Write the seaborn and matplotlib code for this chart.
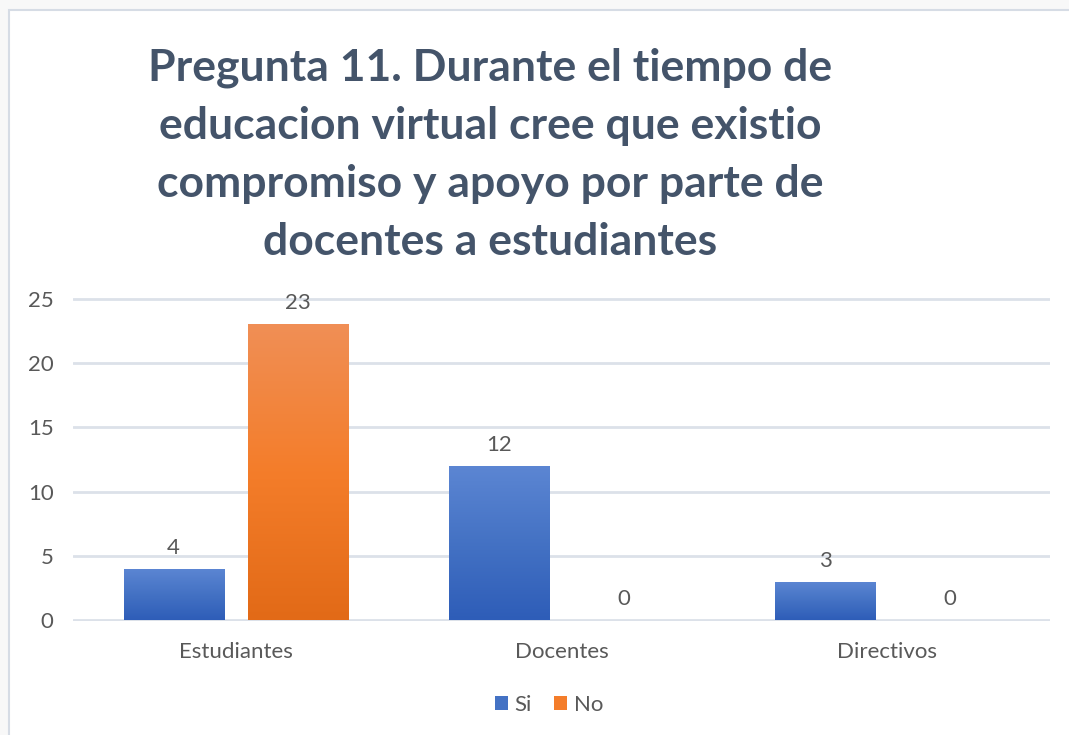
"""Recreate the Pregunta 11 grouped bar chart."""

import matplotlib

matplotlib.use("Agg")
import matplotlib.pyplot as plt
import numpy as np
import pandas as pd
import seaborn as sns
from matplotlib.colors import LinearSegmentedColormap
from matplotlib.patches import Rectangle

CATEGORIES = ["Estudiantes", "Docentes", "Directivos"]
SERIES = ["Si", "No"]
SI_VALUES = [4, 12, 3]
NO_VALUES = [23, 0, 0]
Y_TICKS = [0, 5, 10, 15, 20, 25]
TITLE = (
    "Pregunta 11. Durante el tiempo de\n"
    "educacion virtual cree que existio\n"
    "compromiso y apoyo por parte de\n"
    "docentes a estudiantes"
)

BLUE_STOPS = ["#5C86D3", "#4472C4", "#2E5DB8"]
ORANGE_STOPS = ["#F08F56", "#F47D2A", "#E26A17"]
TEXT_GREY = "#595959"
TITLE_COLOR = "#44546A"
GRID_COLOR = "#DCE1E9"

data = pd.DataFrame(
    {
        "Grupo": CATEGORIES * 2,
        "Respuesta": [SERIES[0]] * len(CATEGORIES) + [SERIES[1]] * len(CATEGORIES),
        "Cantidad": SI_VALUES + NO_VALUES,
    }
)

sns.set_theme(style="white")
plt.rcParams["font.family"] = ["Lato", "DejaVu Sans"]

fig = plt.figure(figsize=(10.69, 7.35), dpi=100, facecolor="#F8F8F8")
fig.patches.append(
    Rectangle(
        (9 / 1069, -0.1), 1.2, 1.1 - 10 / 735,
        transform=fig.transFigure, facecolor="white",
        edgecolor="#D6DCE5", linewidth=1.5, zorder=-1,
    )
)
ax = fig.add_axes([73 / 1069, 114 / 735, 977 / 1069, 323 / 735])
ax.set_facecolor("none")

sns.barplot(
    data=data, x="Grupo", y="Cantidad", hue="Respuesta",
    palette=[BLUE_STOPS[1], ORANGE_STOPS[1]],
    width=0.764, gap=0.196, ax=ax, saturation=1, linewidth=0,
)

# vertical gradient fill like the office chart style (dark at bottom)
gradient = np.linspace(1, 0, 256).reshape(-1, 1)
for container, stops in zip(ax.containers, [BLUE_STOPS, ORANGE_STOPS]):
    cmap = LinearSegmentedColormap.from_list("grad", stops)
    for bar in container:
        x0, y0 = bar.get_x(), bar.get_y()
        w, h = bar.get_width(), bar.get_height()
        if h <= 0:
            continue
        img = ax.imshow(
            gradient, cmap=cmap, aspect="auto", origin="lower",
            extent=(x0, x0 + w, y0, y0 + h), zorder=bar.get_zorder() + 0.1,
        )
        img.set_clip_path(bar)

ax.set_xlim(-0.5, 2.5)
ax.set_ylim(-0.04, 25.04)
for container in ax.containers:
    ax.bar_label(container, padding=8, fontsize=16, color=TEXT_GREY)

ax.set_yticks(Y_TICKS)
ax.yaxis.grid(True, color=GRID_COLOR, linewidth=2)
ax.set_axisbelow(True)
sns.despine(ax=ax, left=True, bottom=True)
ax.tick_params(axis="both", length=0, labelsize=16, labelcolor=TEXT_GREY)
ax.tick_params(axis="y", pad=14)
ax.tick_params(axis="x", pad=15)
ax.set_xlabel("")
ax.set_ylabel("")

sns.move_legend(
    ax, "center", bbox_to_anchor=(549 / 1069, 30 / 735),
    bbox_transform=fig.transFigure, ncol=2, frameon=False, title=None,
    fontsize=16, handlelength=0.6, handleheight=0.6,
    handletextpad=0.3, columnspacing=1.0,
)
for text in ax.get_legend().get_texts():
    text.set_color(TEXT_GREY)

fig.text(
    490 / 1069, 1 - 155 / 735, TITLE, ha="center", va="center",
    fontsize=32, fontweight="bold", color=TITLE_COLOR, linespacing=1.55,
)

fig.savefig("out.png", dpi=100, facecolor=fig.get_facecolor())
